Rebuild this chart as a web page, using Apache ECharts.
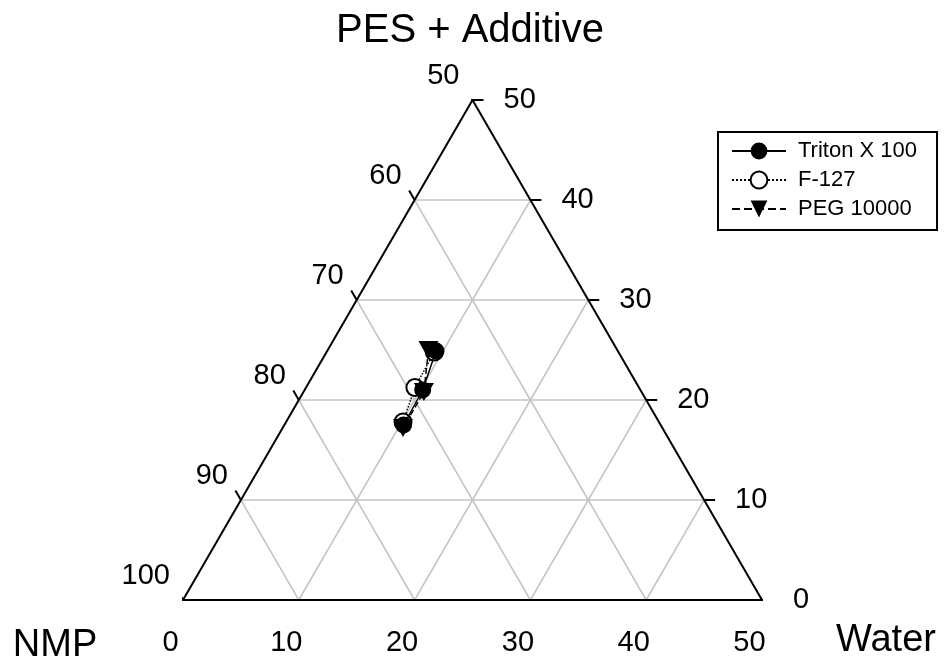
<!DOCTYPE html>
<html><head><meta charset="utf-8">
<script src="https://cdn.jsdelivr.net/npm/echarts@6/dist/echarts.min.js"></script>
<style>html,body{margin:0;padding:0;background:#fff}#c{width:946px;height:666px}</style>
</head><body><div id="c"></div>
<script>
// ---- data (ternary: Water %, PES + Additive %, NMP = 100 - Water - PES) ----
const seriesNames = ['Triton X 100', 'F-127', 'PEG 10000'];
const tritonWater = [9.4, 10.2, 10.3];
const tritonPes   = [24.9, 21.0, 17.5];
const f127Water   = [9.3, 9.4, 10.1];
const f127Pes     = [24.8, 21.25, 17.8];
const pegWater    = [8.7, 10.4, 10.4];
const pegPes      = [25.0, 20.8, 17.2];
const waterTicks  = [0, 10, 20, 30, 40, 50];
const pesTicks    = [0, 10, 20, 30, 40, 50];
const nmpTicks    = [50, 60, 70, 80, 90, 100];
const titleTop = 'PES + Additive', titleLeft = 'NMP', titleRight = 'Water';

// ternary -> cartesian (x = water + pes/2, y = pes)
function tern(w, p) { return [w + p / 2, p]; }
function pts(ws, ps) { return ws.map((w, i) => tern(w, ps[i])); }

const FONT = 'Arial, "Liberation Sans", Helvetica, sans-serif';
const series = [];
function seg(a, b, color, width, z) {
  series.push({ type: 'line', data: [a, b], symbol: 'none', silent: true, z: z || 1,
    lineStyle: { color: color, width: width }, animation: false, legendHoverLink: false });
}
const grey = '#c4c4c4';
// grid lines
[10, 20, 30, 40].forEach(v => {
  seg(tern(0, v), tern(50 - v, v), grey, 1.5, 1);   // constant PES
  seg(tern(v, 0), tern(v, 50 - v), grey, 1.5, 1);   // constant water
});
[60, 70, 80, 90].forEach(n => {                      // constant NMP
  const s = 100 - n;
  seg(tern(s, 0), tern(0, s), grey, 1.5, 1);
});
// triangle edges
seg(tern(0, 0), tern(50, 0), '#000', 2, 2);
seg(tern(0, 0), tern(0, 50), '#000', 2, 2);
seg(tern(50, 0), tern(0, 50), '#000', 2, 2);
// ticks
const t = 0.95;
waterTicks.forEach(w => { const a = tern(w, 0); seg(a, [a[0] - 0.5 * t, -t], '#000', 2, 2); });
pesTicks.forEach(p => { const a = tern(50 - p, p); seg(a, [a[0] + t, a[1]], '#000', 2, 2); });
nmpTicks.forEach(n => { const s = 100 - n; const a = tern(0, s); seg(a, [a[0] - 0.5 * t, a[1] + t], '#000', 2, 2); });

// tick labels
function labelSeries(data, offset, align) {
  series.push({ type: 'scatter', data: data, symbolSize: 0, silent: true, animation: false,
    itemStyle: { opacity: 1 },
    label: { show: true, position: 'inside', offset: offset, align: align, verticalAlign: 'middle',
      formatter: p => p.data[2], fontSize: 29, color: '#000', opacity: 1, textBorderWidth: 0,
      fontFamily: FONT } });
}
labelSeries(waterTicks.map(w => tern(w, 0).concat([String(w)])), [-12.5, 43], 'center');
labelSeries(pesTicks.map(p => tern(50 - p, p).concat([String(p)])), [31, 0], 'left');
labelSeries(nmpTicks.map(n => tern(0, 100 - n).concat([String(n)])), [-13, -24], 'right');

// data series
series.push({ name: seriesNames[0], type: 'line', data: pts(tritonWater, tritonPes), z: 6,
  symbol: 'circle', symbolSize: 17, color: '#000', lineStyle: { color: '#000', width: 1.5, type: 'solid' },
  itemStyle: { color: '#000' }, animation: false });
series.push({ name: seriesNames[1], type: 'line', data: pts(f127Water, f127Pes), z: 5,
  symbol: 'emptyCircle', symbolSize: 17, color: '#000', lineStyle: { color: '#000', width: 1.5, type: 'dotted' },
  itemStyle: { color: '#000', borderWidth: 2 }, animation: false });
series.push({ name: seriesNames[2], type: 'line', data: pts(pegWater, pegPes), z: 7,
  symbol: 'triangle', symbolRotate: 180, symbolSize: [20, 18], color: '#000',
  lineStyle: { color: '#000', width: 1.5, type: 'dashed' }, itemStyle: { color: '#000' }, animation: false });

const chart = echarts.init(document.getElementById('c'), null, { renderer: 'canvas' });
chart.setOption({
  backgroundColor: '#fff',
  animation: false,
  grid: { left: 183, top: 100, width: 579, height: 500, containLabel: false },
  xAxis: { type: 'value', min: 0, max: 50, show: false },
  yAxis: { type: 'value', min: 0, max: 50, show: false },
  legend: {
    orient: 'vertical', left: 718, top: 132, data: seriesNames, selectedMode: false,
    itemWidth: 54, itemHeight: 21, itemGap: 7, padding: [8, 20, 10, 13],
    borderColor: '#000', borderWidth: 2, backgroundColor: '#fff',
    textStyle: { fontSize: 22, color: '#000', fontFamily: FONT, padding: [0, 0, 0, 7] }
  },
  graphic: [
    { type: 'text', style: { text: titleTop, fontSize: 40, fontFamily: FONT, fill: '#000', x: 470, y: 31, align: 'center', verticalAlign: 'middle' } },
    { type: 'text', style: { text: titleLeft, fontSize: 38, fontFamily: FONT, fill: '#000', x: 55, y: 646, align: 'center', verticalAlign: 'middle' } },
    { type: 'text', style: { text: titleRight, fontSize: 38, fontFamily: FONT, fill: '#000', x: 886, y: 641, align: 'center', verticalAlign: 'middle' } }
  ],
  series: series
});
</script></body></html>
